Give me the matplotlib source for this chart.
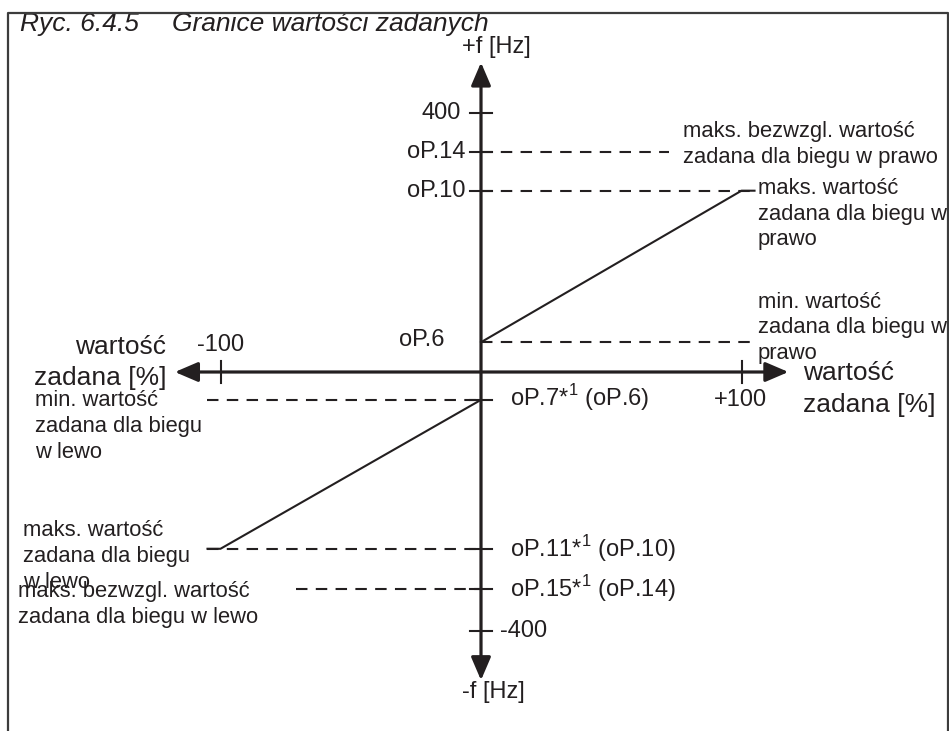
import matplotlib.pyplot as plt
from matplotlib.lines import Line2D

plt.rcParams['font.family'] = ['Liberation Sans', 'DejaVu Sans']
plt.rcParams['mathtext.fontset'] = 'custom'
plt.rcParams['mathtext.rm'] = 'Liberation Sans'

# setpoint levels on the frequency axis (Hz)
level_names = ['oP.14', 'oP.10', 'oP.6', 'oP.7', 'oP.11', 'oP.15']
level_hz = [340, 280, 46, -43, -273, -335]
guide_start = [0, 0, 0, -105, -105, -71]
guide_end = [72, 105, 104, 0, 0, 0]
scale_hz = [400, -400]
setpoint_pct = [-100, 100]

# characteristic lines (setpoint % -> frequency Hz)
right_pct = [0, 100, 105]
right_hz = [46, 280, 280]
left_pct = [0, -100, -105]
left_hz = [-43, -273, -273]

# axis extent
x_axis = [-117.5, 118]
y_axis = [-476, 478]
tick_y = [400, 340, 280, -43, -273, -335, -400]

ink = '#231f20'

# pixel -> data helpers (origin of diagram at pixel 481, 372)
X0, Y0, PX_PCT, PX_HZ = 481, 372, 2.605, 0.6475


def px(x, y):
    return (x - X0) / PX_PCT, (Y0 - y) / PX_HZ


fig = plt.figure(figsize=(9.49, 7.31), dpi=100)
ax = fig.add_axes([0, 0, 1, 1])
ax.set_xlim(px(0, 0)[0], px(949, 0)[0])
ax.set_ylim(px(0, 731)[1], px(0, 0)[1])
ax.axis('off')

# frame
fig.add_artist(Line2D([8 / 949, 8 / 949, 948 / 949, 948 / 949],
                      [0, 1 - 13 / 731, 1 - 13 / 731, 0],
                      color='#3c3c3c', lw=1.6))

# dashed guides
for y, x0, x1 in zip(level_hz, guide_start, guide_end):
    ax.plot([x0, x1], [y, y], color=ink, lw=1.5, ls=(0, (5.5, 4)))

# characteristics
ax.plot(right_pct, right_hz, color=ink, lw=1.5)
ax.plot(left_pct, left_hz, color=ink, lw=1.5)

# axes with arrows
arrow = dict(arrowstyle='<|-|>,head_length=0.7,head_width=0.3',
             color=ink, lw=2.3, mutation_scale=20, shrinkA=0, shrinkB=0)
ax.annotate('', xy=(x_axis[1], 0), xytext=(x_axis[0], 0), arrowprops=arrow)
ax.annotate('', xy=(0, y_axis[1]), xytext=(0, y_axis[0]), arrowprops=arrow)

for y in tick_y:
    ax.plot([-4.4, 4.4], [y, y], color=ink, lw=1.5)
for x in setpoint_pct:
    ax.plot([x, x], [-17, 17], color=ink, lw=1.5)

# axis captions
lvl = 17
ax.text(*px(496, 47), '+f [Hz]', ha='center', va='center', fontsize=17, color=ink)
ax.text(*px(493, 692), '-f [Hz]', ha='center', va='center', fontsize=17, color=ink)
ax.text(*px(461, 113), str(scale_hz[0]), ha='right', va='center', fontsize=lvl, color=ink)
ax.text(*px(500, 631), str(scale_hz[1]), ha='left', va='center', fontsize=lvl, color=ink)
ax.text(*px(221, 345), f'{setpoint_pct[0]}', ha='center', va='center', fontsize=lvl, color=ink)
ax.text(*px(740, 400), f'+{setpoint_pct[1]}', ha='center', va='center', fontsize=lvl, color=ink)

ax.text(*px(465, 152), level_names[0], ha='right', va='center', fontsize=lvl, color=ink)
ax.text(*px(465, 191), level_names[1], ha='right', va='center', fontsize=lvl, color=ink)
ax.text(*px(445, 340), level_names[2], ha='right', va='center', fontsize=lvl, color=ink)
sup = r'$^{\mathregular{1}}$'
ax.text(*px(510, 398), f'{level_names[3]}*{sup} ({level_names[2]})',
        ha='left', va='center', fontsize=lvl, color=ink)
ax.text(*px(510, 549), f'{level_names[4]}*{sup} ({level_names[1]})',
        ha='left', va='center', fontsize=lvl, color=ink)
ax.text(*px(510, 589), f'{level_names[5]}*{sup} ({level_names[0]})',
        ha='left', va='center', fontsize=lvl, color=ink)

big = 19
ax.text(*px(166, 347), 'wartość', ha='right', va='center', fontsize=big, color=ink)
ax.text(*px(166, 378), 'zadana [%]', ha='right', va='center', fontsize=big, color=ink)
ax.text(*px(803, 373), 'wartość', ha='left', va='center', fontsize=big, color=ink)
ax.text(*px(803, 405), 'zadana [%]', ha='left', va='center', fontsize=big, color=ink)


def block(x, y, lines, step=25.5, size=15.8):
    for i, s in enumerate(lines):
        ax.text(*px(x, y + i * step), s, ha='left', va='center',
                fontsize=size, color=ink)


block(683, 132, ['maks. bezwzgl. wartość', 'zadana dla biegu w prawo'])
block(758, 189, ['maks. wartość', 'zadana dla biegu w', 'prawo'])
block(758, 302, ['min. wartość', 'zadana dla biegu w', 'prawo'])
block(35, 401, ['min. wartość', 'zadana dla biegu', 'w lewo'])
block(23, 531, ['maks. wartość', 'zadana dla biegu', 'w lewo'])
block(18, 592, ['maks. bezwzgl. wartość', 'zadana dla biegu w lewo'])

# title
ax.text(*px(20, 24), 'Ryc. 6.4.5', ha='left', va='center', fontsize=19,
        style='italic', color=ink)
ax.text(*px(172, 24), 'Granice wartości zadanych', ha='left', va='center',
        fontsize=19, style='italic', color=ink)

fig.savefig('out.png', dpi=100)
